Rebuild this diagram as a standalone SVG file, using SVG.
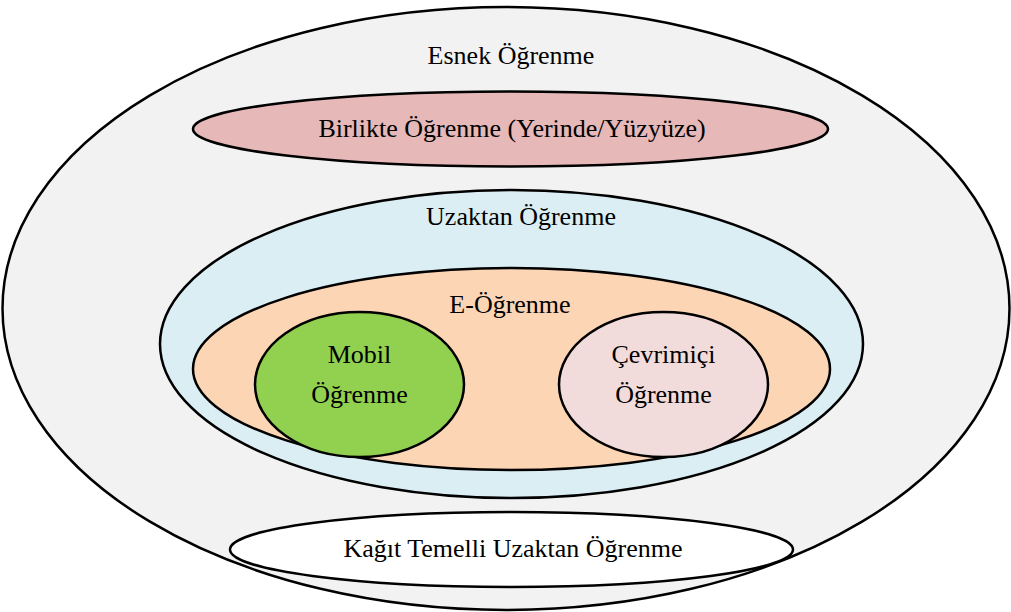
<svg xmlns="http://www.w3.org/2000/svg" width="1011" height="612" viewBox="0 0 1011 612">
<style>
.e{stroke:#000;stroke-width:2.5}
.t{font-family:"Liberation Serif","Times New Roman",serif;font-size:26px;fill:#000;text-anchor:middle}
</style>
<rect width="1011" height="612" fill="#fff"/>
<g id="esnek">
<ellipse class="e" cx="506" cy="308.5" rx="503.5" ry="301.5" fill="#f2f2f2"/>
<text class="t" x="511" y="64">Esnek Öğrenme</text>
</g>
<g id="birlikte">
<ellipse class="e" cx="510.5" cy="129" rx="317.5" ry="37.5" fill="#e6b8b7"/>
<text class="t" x="512" y="137">Birlikte Öğrenme (Yerinde/Yüzyüze)</text>
</g>
<g id="uzaktan">
<ellipse class="e" cx="511.5" cy="344" rx="351.5" ry="154" fill="#daeef3"/>
<text class="t" x="521" y="225">Uzaktan Öğrenme</text>
</g>
<g id="e-ogrenme">
<ellipse class="e" cx="511.5" cy="369" rx="318.5" ry="101" fill="#fcd5b5"/>
<text class="t" x="510" y="313">E-Öğrenme</text>
</g>
<g id="mobil">
<ellipse class="e" cx="359.5" cy="384.5" rx="104.5" ry="72.5" fill="#92d050"/>
<text class="t" x="359.5" y="363">Mobil</text>
<text class="t" x="359.5" y="403">Öğrenme</text>
</g>
<g id="cevrimici">
<ellipse class="e" cx="663.5" cy="384.5" rx="104.5" ry="72.5" fill="#f2dcdb"/>
<text class="t" x="663.5" y="363">Çevrimiçi</text>
<text class="t" x="663.5" y="403">Öğrenme</text>
</g>
<g id="kagit">
<ellipse class="e" cx="511.5" cy="549.5" rx="281.5" ry="37.5" fill="#fff"/>
<text class="t" x="513" y="557">Kağıt Temelli Uzaktan Öğrenme</text>
</g>
<g id="connectors"/>
</svg>
